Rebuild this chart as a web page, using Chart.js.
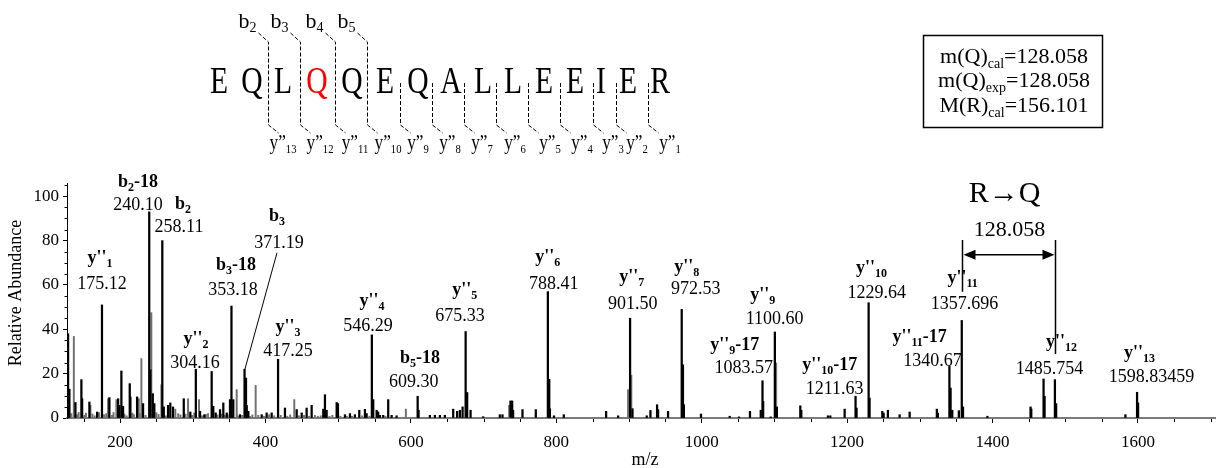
<!DOCTYPE html>
<html>
<head>
<meta charset="utf-8">
<script src="https://cdn.jsdelivr.net/npm/chart.js@4.4.1/dist/chart.umd.min.js"></script>
<style>
  html, body { margin: 0; padding: 0; background: #fff; }
</style>
</head>
<body>
<canvas id="spectrum" width="1217" height="468"></canvas>
<script>
// strong (black) peaks: m/z and relative abundance
const peakMz = [128.5,130.3,138.6,146.8,147.8,157.8,168.4,175.1,185.3,197.3,199.0,201.8,204.1,213.3,214.2,223.4,231.6,240.1,241.6,245.0,247.1,
  258.1,260.1,266.0,269.1,272.8,287.6,296.6,304.2,310.0,315.9,326.0,328.2,331.5,337.5,342.0,346.7,351.2,353.2,355.7,365.0,371.2,373.2,374.2,376.4,
  394.8,401.6,408.5,417.3,426.8,442.9,449.8,456.6,463.5,479.5,481.8,484.1,497.9,499.7,509.3,516.2,523.0,529.0,536.8,539.1,546.3,548.2,552.9,555.0,
  557.4,561.9,568.8,573.5,580.3,609.3,610.6,626.1,633.0,639.9,646.7,658.2,663.6,667.4,671.1,675.3,677.4,682.1,699.4,722.3,726.0,737.0,739.3,740.6,
  753.5,771.8,788.4,790.3,791.2,796.8,810.3,868.5,885.0,901.5,904.8,924.4,929.5,938.6,940.0,953.7,972.5,974.2,975.5,999.0,1038.5,1051.3,1066.4,
  1081.2,1083.6,1084.5,1094.8,1100.6,1103.4,1135.6,1137.0,1173.6,1176.9,1196.6,1211.6,1213.0,1229.6,1230.9,1248.4,1250.2,1256.1,1272.2,1286.0,
  1323.4,1324.8,1340.7,1342.3,1344.6,1353.7,1357.7,1359.4,1393.0,1452.3,1453.3,1470.2,1471.6,1485.8,1487.5,1582.8,1598.8,1600.2];
const peakAb = [38,13,7,17.3,8.7,7.2,2.7,51,9.2,8.7,5.7,21.2,5.3,15.5,9.5,9.5,6.5,93,21.8,11,6.5,
  80,5,5.7,6.8,5,8.7,2.7,22,3,1.5,21,5.3,2.3,3.8,6.8,2.3,8.3,50.5,8.3,1.5,22,18,5.7,3,
  1.5,2.3,2.3,26.5,4.5,3.8,2.3,4.5,5.7,4,10.5,3.5,7,6.5,1.5,2,1.5,3.5,3.9,2,37.5,8.3,3.5,2.7,
  1.2,1.2,8.3,1.2,1,9.8,3.5,1.2,1.2,1.2,1.2,4,3,3.5,5,39,11.5,3.5,0.6,1.5,1.5,7.7,7.7,3.5,
  3.8,3.8,57,17.5,4.2,1,1.5,3,1,45,4.2,1,3.4,6,3.8,3,49,24,6,1.8,0.8,0.5,3,
  3.5,16.8,7.5,0.5,38.8,5,5.5,3.5,1,1,4,9.8,4.5,52,9,3,2.2,3.5,1.5,2.7,
  4,2.2,23.3,13.5,3.5,3.3,44,5,0.8,5,4,17.6,9.8,17.3,6.5,1.5,11.6,6.8];

// weaker (grey) peaks and baseline noise
const noiseMz = [136.4,159.2,183.5,194.9,225.7,229.3,243.0,256.8,276.0,293.5,308.6,360.4,386.5,439.6,593.1,735.1,898.7,903.2,1102.4,
  133,141,143,151,153,162,165,171,178,181,189,191,206,209,217,219,227,235,250,253,263,280,283,290,299,302,313,318,321,334,339,344,348,
  362,368,379,382,390,398,405,412,421,430,434,446,453,460,468,472,476,488,492,503,512,519,533,543,565,585,598,604,616,620];
const noiseAb = [36.8,5.7,8.7,8.3,8.7,26.8,47.5,15,4,8.7,8.3,12.8,14.7,8.3,4,5.7,12.8,19.3,24.8,
  2,1.5,2.5,1.2,2.2,1.8,1,2.4,1.5,2,1.2,2.5,1.8,1,2.2,1.5,2,1.2,2.4,1.6,1,2,1.4,1.8,1.2,2.2,1,1.6,2,
  1.4,1.8,1.2,1.5,1,1.2,0.8,1.4,1.2,0.8,1.5,1,1.2,0.8,1.4,1,1.2,0.8,1.2,0.8,1,0.8,1.2,0.8,0.8,0.8,1,0.8,0.8];

const xTicks = [200, 400, 600, 800, 1000, 1200, 1400, 1600];
const yTicks = [0, 20, 40, 60, 80, 100];

// labelled fragment ions
const ionBase  = ["y''","b","b","b","b","y''","y''","y''","b","y''","y''","y''","y''","y''","y''","y''","y''","y''","y''","y''","y''"];
const ionIndex = ['1','2','2','3','3','2','3','4','5','5','6','7','8','9','9','10','10','11','11','12','13'];
const ionLoss  = ['','-18','','','-18','','','','-18','','','','','','-17','-17','','','-17','',''];
const ionMass  = ['175.12','240.10','258.11','371.19','353.18','304.16','417.25','546.29','609.30','675.33','788.41','901.50',
  '972.53','1100.60','1083.57','1211.63','1229.64','1357.696','1340.67','1485.754','1598.83459'];
const nameMz = [172.5,224.7,286.6,415.8,359.5,304.5,430.9,546.4,612.4,674.2,788.3,903.8,979.4,1083.8,1045.4,1176,1233.7,1358.8,1299.7,1494.8,1602.1];
const nameAb = [72.2,106.5,96.6,91.2,69,35.6,41.1,52.8,27.1,57.8,72.7,63.6,68.1,55.5,32.9,23.9,67.7,63.2,36.6,34.3,29.3];
const massMz = [175.3,224.7,281.1,418.6,355.3,303.1,430.9,540.9,604.1,667.4,796.6,905.2,991.8,1100.3,1057.7,1182.8,1240.6,1361.5,1317.5,1478.4,1618.6];
const massAb = [60.9,96.6,86.6,79.4,58.2,25.3,30.7,42,16.7,46.5,60.9,51.9,58.7,45.1,23,13.5,56.9,51.9,26.2,22.6,19];

// peptide sequence
const residues = ['E','Q','L','Q','Q','E','Q','A','L','L','E','E','I','E','R'];
const mutated = 3;

const SERIF = '"Liberation Serif", "Times New Roman", serif';

function drawRich(ctx, segs, cx, base, size, bold, subSize, drop) {
  const w = bold ? 'bold ' : '';
  let total = 0;
  segs.forEach(([t, sub]) => {
    ctx.font = w + (sub ? subSize : size) + 'px ' + SERIF;
    total += ctx.measureText(t).width;
  });
  let x = cx - total / 2;
  ctx.textAlign = 'left';
  ctx.textBaseline = 'alphabetic';
  segs.forEach(([t, sub]) => {
    ctx.font = w + (sub ? subSize : size) + 'px ' + SERIF;
    ctx.fillText(t, x, base + (sub ? drop : 0));
    x += ctx.measureText(t).width;
  });
}

function dashed(ctx, pts) {
  ctx.beginPath();
  ctx.moveTo(pts[0][0], pts[0][1]);
  for (let i = 1; i < pts.length; i++) ctx.lineTo(pts[i][0], pts[i][1]);
  ctx.stroke();
}

const annotations = {
  id: 'annotations',
  afterDraw(chart) {
    const ctx = chart.ctx;
    const xs = chart.scales.x, ys = chart.scales.y;
    const area = chart.chartArea;
    ctx.save();
    ctx.fillStyle = '#000';
    ctx.strokeStyle = '#000';

    // minor ticks
    ctx.lineWidth = 1;
    ctx.beginPath();
    for (let v = 150; v <= 1700; v += 50) {
      if (v % 200 === 0) continue;
      const px = Math.round(xs.getPixelForValue(v)) + 0.5;
      ctx.moveTo(px, area.bottom + 1);
      ctx.lineTo(px, area.bottom + 4);
    }
    for (let v = 5; v <= 105; v += 5) {
      if (v % 20 === 0) continue;
      const py = Math.round(ys.getPixelForValue(v)) + 0.5;
      ctx.moveTo(area.left, py);
      ctx.lineTo(area.left - 2.5, py);
    }
    ctx.stroke();

    // axis titles
    ctx.font = '18px ' + SERIF;
    ctx.textAlign = 'center';
    ctx.textBaseline = 'middle';
    ctx.fillText('m/z', 645, 460);
    ctx.save();
    ctx.translate(16, 293);
    ctx.rotate(-Math.PI / 2);
    ctx.fillText('Relative Abundance', 0, 0);
    ctx.restore();

    // ion labels
    ionBase.forEach((b, i) => {
      const segs = [[b, false], [ionIndex[i], true]];
      if (ionLoss[i]) segs.push([ionLoss[i], false]);
      drawRich(ctx, segs, xs.getPixelForValue(nameMz[i]), ys.getPixelForValue(nameAb[i]) + 5, 18, true, 12, 4);
      ctx.font = '18px ' + SERIF;
      ctx.textAlign = 'center';
      ctx.textBaseline = 'alphabetic';
      ctx.fillText(ionMass[i], xs.getPixelForValue(massMz[i]), ys.getPixelForValue(massAb[i]) + 6);
    });

    // leader line for b3
    ctx.lineWidth = 1;
    ctx.beginPath();
    ctx.moveTo(xs.getPixelForValue(415.8), ys.getPixelForValue(74.5));
    ctx.lineTo(xs.getPixelForValue(371.8), ys.getPixelForValue(22.1));
    ctx.stroke();

    // R->Q mass difference
    const xa = Math.round(xs.getPixelForValue(1357.7)) + 0.5;
    const xb = Math.round(xs.getPixelForValue(1485.8)) + 0.5;
    const top = ys.getPixelForValue(80.3);
    ctx.beginPath();
    ctx.moveTo(xa, top); ctx.lineTo(xa, ys.getPixelForValue(56.9));
    ctx.moveTo(xb, top); ctx.lineTo(xb, ys.getPixelForValue(28.9));
    const ay = ys.getPixelForValue(73.6);
    ctx.moveTo(xa + 8, ay); ctx.lineTo(xb - 8, ay);
    ctx.lineWidth = 1.5;
    ctx.stroke();
    ctx.beginPath();
    ctx.moveTo(xa + 1, ay); ctx.lineTo(xa + 13, ay - 5); ctx.lineTo(xa + 13, ay + 5); ctx.closePath();
    ctx.moveTo(xb - 1, ay); ctx.lineTo(xb - 13, ay - 5); ctx.lineTo(xb - 13, ay + 5); ctx.closePath();
    ctx.fill();
    ctx.textAlign = 'center';
    ctx.textBaseline = 'alphabetic';
    ctx.font = '22px ' + SERIF;
    ctx.fillText('128.058', xs.getPixelForValue(1423.4), ys.getPixelForValue(85.7) + 8);
    ctx.font = '30px ' + SERIF;
    ctx.fillText('R\u2192Q', xs.getPixelForValue(1416.5), ys.getPixelForValue(102) + 10);

    // peptide sequence
    const resX = [219,252,283,317,352,385,418,451,483,513,544,575,601,628,660];
    residues.forEach((r, i) => {
      ctx.save();
      ctx.translate(resX[i], 93);
      ctx.scale(0.8, 1);
      ctx.font = '37px ' + SERIF;
      ctx.textAlign = 'center';
      ctx.textBaseline = 'alphabetic';
      ctx.fillStyle = i === mutated ? '#ff0000' : '#000';
      ctx.fillText(r, 0, 0);
      ctx.restore();
    });

    ctx.lineWidth = 1;
    ctx.setLineDash([4, 2]);
    const bX = [268.5, 300.5, 335.5, 367.5];
    bX.forEach(x => dashed(ctx, [[x - 10, 33], [x, 42], [x, 125], [x + 10, 133]]));
    const yX = [400.5, 432.5, 464.5, 496.5, 528.5, 560.5, 593.5, 616.5, 648.5];
    yX.forEach(x => dashed(ctx, [[x, 83], [x, 125], [x + 10, 133]]));
    ctx.setLineDash([]);

    ['2', '3', '4', '5'].forEach((n, i) => {
      drawRich(ctx, [['b', false], [n, true]], bX[i] - 21, 28, 22, false, 14, 4);
    });
    const yLabX = [283, 320, 355, 388, 418, 450, 482, 515, 550, 582, 613, 637, 670];
    yLabX.forEach((x, i) => {
      ctx.save();
      ctx.translate(x, 149);
      ctx.scale(0.82, 1);
      drawRich(ctx, [['y\u201D', false], [String(13 - i), true]], 0, 0, 21, false, 13, 4);
      ctx.restore();
    });

    // info box
    ctx.lineWidth = 1.5;
    ctx.strokeRect(923.5, 35.5, 179, 92);
    drawRich(ctx, [['m(Q)', false], ['cal', true], ['=128.058', false]], 1014, 63, 22, false, 14, 5);
    drawRich(ctx, [['m(Q)', false], ['exp', true], ['=128.058', false]], 1014, 87, 22, false, 14, 5);
    drawRich(ctx, [['M(R)', false], ['cal', true], ['=156.101', false]], 1014, 111.5, 22, false, 14, 5);

    ctx.restore();
  }
};

const ctx = document.getElementById('spectrum').getContext('2d');
new Chart(ctx, {
  type: 'bar',
  data: {
    datasets: [
      {
        label: 'noise',
        data: noiseMz.map((m, i) => ({ x: m, y: noiseAb[i] })),
        backgroundColor: '#707070',
        barThickness: 1.3,
        grouped: false,
        order: 2
      },
      {
        label: 'peaks',
        data: peakMz.map((m, i) => ({ x: m, y: peakAb[i] })),
        backgroundColor: '#000',
        barThickness: 1.6,
        grouped: false,
        order: 1
      }
    ]
  },
  options: {
    responsive: false,
    animation: false,
    layout: { padding: { top: 183, right: 2, left: 0, bottom: 0 } },
    scales: {
      x: {
        type: 'linear',
        min: 127,
        max: 1706,
        offset: false,
        afterBuildTicks: s => { s.ticks = xTicks.map(v => ({ value: v })); },
        afterFit: s => { s.height = 50; },
        grid: { display: true, drawOnChartArea: false, drawTicks: true, tickLength: 5, color: '#000', offset: false },
        border: { display: true, color: '#7a7a7a', width: 2 },
        ticks: { color: '#000', padding: 9, maxRotation: 0, autoSkip: false, font: { family: SERIF, size: 17 },
                 callback: v => String(v) }
      },
      y: {
        min: 0,
        max: 106,
        afterBuildTicks: s => { s.ticks = yTicks.map(v => ({ value: v })); },
        afterFit: s => { s.width = 67; },
        grid: { display: true, drawOnChartArea: false, drawTicks: true, tickLength: 4, color: '#000' },
        border: { display: true, color: '#000', width: 1 },
        ticks: { color: '#000', padding: 4, font: { family: SERIF, size: 17 }, callback: v => String(v) }
      }
    },
    plugins: {
      legend: { display: false },
      tooltip: { enabled: false }
    }
  },
  plugins: [annotations]
});
</script>
</body>
</html>
